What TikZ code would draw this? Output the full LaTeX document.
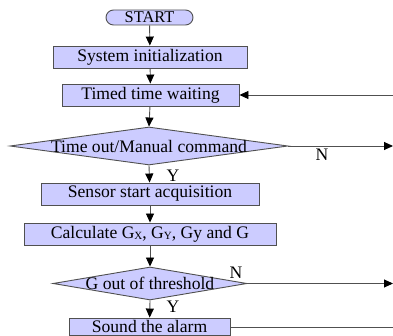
\documentclass[tikz,border=0pt]{standalone}
\usepackage{fontspec}
\setmainfont{Liberation Serif}
\usetikzlibrary{arrows.meta,shapes.geometric}
\definecolor{boxfill}{HTML}{CCCCFF}
\definecolor{edge}{HTML}{505050}
\newcommand{\sub}[1]{\raisebox{-1.2pt}{\fontsize{11}{11}\selectfont #1}}
\begin{document}
\begin{tikzpicture}[x=1pt,y=-1pt,
  every node/.style={font=\fontsize{17.6}{19}\selectfont},
  procbox/.style={rectangle,draw=edge,fill=boxfill,line width=0.9pt,inner sep=0pt},
  decbox/.style={diamond,draw=edge,fill=boxfill,line width=0.9pt,inner sep=0pt},
  flow/.style={draw=edge,line width=0.9pt,-{Triangle[length=9pt,width=8pt,color=black]}},
  plain/.style={draw=edge,line width=0.9pt},
  lbl/.style={inner sep=0pt}]
\useasboundingbox (0,0) rectangle (393,336);

% blocks
\node[procbox,rounded corners=7.5pt,minimum width=87pt,minimum height=15pt,
      font=\fontsize{16.4}{17}\selectfont] (start) at (149.5,17.5) {START};
\node[procbox,minimum width=194pt,minimum height=22pt] (init) at (150,57) {System initialization};
\node[procbox,minimum width=177pt,minimum height=22pt] (wait) at (150.5,95) {Timed time waiting};
\node[decbox,minimum width=278pt,minimum height=38pt] (tout) at (149,146) {};
\node[lbl] at (tout) {Time out/Manual command};
\node[procbox,minimum width=218pt,minimum height=22pt] (acq) at (150,194) {Sensor start acquisition};
\node[procbox,minimum width=252pt,minimum height=22pt] (calc) at (150,234)
  {Calculate G\sub{X}, G\sub{Y}, Gy and G};
\node[decbox,minimum width=194pt,minimum height=33pt] (thr) at (150,283.5) {};
\node[lbl] at (thr) {G out of threshold};
\node[procbox,minimum width=161pt,minimum height=17pt] (alarm) at (149.5,326.5) {Sound the alarm};

% loose ends at the right margin
\coordinate (backin) at (393,95);
\coordinate (toutN) at (393,146);
\coordinate (thrN) at (393,283.5);
\coordinate (alarmout) at (393,327);

% connectors
\draw[flow] (start) -- (init);
\draw[flow] (init) -- (wait);
\draw[flow] (wait) -- (tout.north);
\draw[flow] (tout.south) -- (acq);
\draw[flow] (acq) -- (calc);
\draw[flow] (calc) -- (thr.north);
\draw[flow] (thr.south) -- (alarm);
\draw[flow] (backin) -- (wait.east);
\draw[flow] (tout.east) -- (toutN);
\draw[flow] (thr.east) -- (thrN);
\draw[plain] (alarm.east |- alarmout) -- (alarmout);

% branch labels
\node[lbl] at (173,176) {Y};
\node[lbl] at (322,155) {N};
\node[lbl] at (173,307) {Y};
\node[lbl] at (236,273) {N};
\end{tikzpicture}
\end{document}
